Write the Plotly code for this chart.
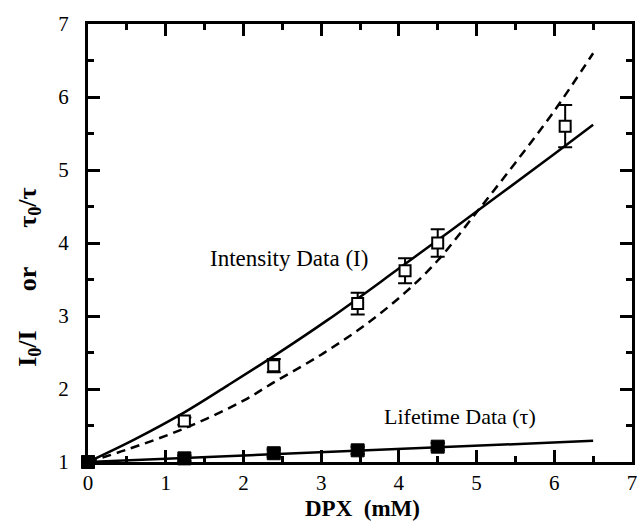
import plotly.graph_objects as go

# Intensity data (open squares) with error bars
int_x = [0.0, 1.24, 2.39, 3.47, 4.08, 4.50, 6.14]
int_y = [1.00, 1.56, 2.32, 3.17, 3.62, 4.00, 5.60]
int_err = [0.0, 0.05, 0.09, 0.15, 0.17, 0.19, 0.29]

# Lifetime data (filled squares) with error bars
life_x = [0.0, 1.24, 2.39, 3.47, 4.50]
life_y = [1.00, 1.05, 1.12, 1.16, 1.21]
life_err = [0.0, 0.04, 0.05, 0.05, 0.05]

# Solid fit line through intensity data
fit_solid_x = [0.0, 0.6, 1.24, 1.8, 2.39, 3.09, 4.0, 5.0, 6.0, 6.5]
fit_solid_y = [1.00, 1.31, 1.68, 2.05, 2.45, 2.95, 3.65, 4.43, 5.22, 5.62]

# Dashed curve
fit_dash_x = [0.0, 0.5, 1.24, 2.0, 2.39, 3.0, 3.57, 4.08, 4.5, 5.0, 5.5, 6.0, 6.5]
fit_dash_y = [1.00, 1.17, 1.46, 1.84, 2.09, 2.47, 2.88, 3.32, 3.76, 4.42, 5.10, 5.81, 6.60]

# Lifetime fit line
fit_life_x = [0.0, 6.5]
fit_life_y = [1.00, 1.29]

x_ticks = [0, 1, 2, 3, 4, 5, 6, 7]
y_ticks = [1, 2, 3, 4, 5, 6, 7]

SERIF = "Liberation Serif"

fig = go.Figure()

fig.add_trace(go.Scatter(x=fit_dash_x, y=fit_dash_y, mode="lines", line_shape="spline",
                         line=dict(color="black", width=2.5, dash="9px,6px"), showlegend=False))
fig.add_trace(go.Scatter(x=fit_solid_x, y=fit_solid_y, mode="lines", line_shape="spline",
                         line=dict(color="black", width=2.5), showlegend=False))
fig.add_trace(go.Scatter(x=fit_life_x, y=fit_life_y, mode="lines",
                         line=dict(color="black", width=2.5), showlegend=False))

fig.add_trace(go.Scatter(x=int_x, y=int_y, mode="markers", cliponaxis=False,
                         marker=dict(symbol="square", size=11, color="white",
                                     line=dict(color="black", width=2)),
                         error_y=dict(type="data", array=int_err, thickness=2, width=7, color="black"),
                         showlegend=False))
fig.add_trace(go.Scatter(x=life_x, y=life_y, mode="markers", cliponaxis=False,
                         marker=dict(symbol="square", size=13, color="black",
                                     line=dict(color="black", width=1)),
                         error_y=dict(type="data", array=life_err, thickness=2, width=7, color="black"),
                         showlegend=False))

axis_common = dict(showline=True, linewidth=3, linecolor="black", mirror="allticks",
                   ticks="inside", ticklen=12, tickwidth=2.5, tickcolor="black",
                   showgrid=False, zeroline=False,
                   tickfont=dict(family=SERIF, size=21, color="black"),
                   minor=dict(ticks="inside", ticklen=6, tickwidth=2.5, tickcolor="black", dtick=0.5, showgrid=False))

fig.update_xaxes(range=[0, 7], tickvals=x_ticks, ticktext=[str(v) for v in x_ticks],
                 ticklabelstandoff=0, **axis_common)
fig.update_yaxes(range=[1, 7], tickvals=y_ticks, ticktext=[str(v) for v in y_ticks],
                 ticklabelstandoff=12, **axis_common)

fig.add_annotation(x=2.58, y=3.79, xref="x", yref="y", text="Intensity Data (I)", showarrow=False,
                   font=dict(family=SERIF, size=23, color="black"))
fig.add_annotation(x=4.79, y=1.62, xref="x", yref="y", text="Lifetime Data (\u03c4)", showarrow=False,
                   font=dict(family=SERIF, size=22, color="black"))

fig.add_annotation(x=0.505, y=0, xref="paper", yref="paper", yshift=-46, yanchor="middle",
                   text="<b>DPX\u00a0\u00a0(mM)</b>", showarrow=False,
                   font=dict(family=SERIF, size=23, color="black"))
fig.add_annotation(x=-0.109, y=0.422, xref="paper", yref="paper", textangle=-90,
                   xanchor="center", yanchor="middle",
                   text="<b>I<sub>0</sub>/I\u00a0\u00a0\u00a0\u00a0\u00a0\u00a0or\u00a0\u00a0\u00a0\u00a0\u00a0\u00a0\u03c4<sub>0</sub>/\u03c4</b>",
                   showarrow=False, font=dict(family=SERIF, size=26, color="black"))

fig.update_layout(width=643, height=530, margin=dict(l=88, r=6, t=24, b=68),
                  plot_bgcolor="white", paper_bgcolor="white")

# remove the default page margin so the figure sits at the window's top-left corner
fig.write_html("out.html", config={"displayModeBar": False},
               post_script="document.body.style.margin='0px';document.body.style.overflow='hidden';")
